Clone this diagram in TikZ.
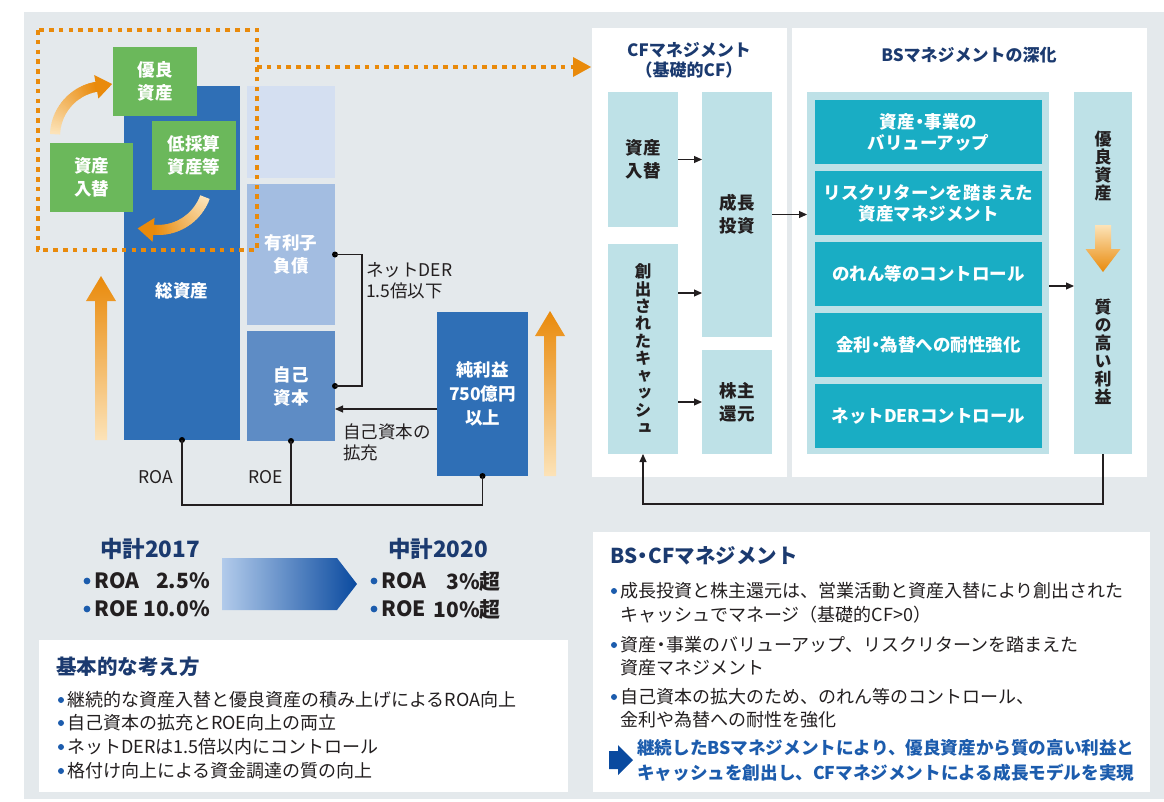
\documentclass[tikz,border=0pt]{standalone}
\usepackage{fontspec}
\setmainfont{Noto Sans CJK JP}
\newfontfamily\vjp[RawFeature=+vert]{Noto Sans CJK JP}
\usetikzlibrary{arrows.meta,calc}
\newcommand{\md}{\kern-.22em・\kern-.22em}
\definecolor{bgray}{HTML}{E4E9EC}
\definecolor{tablue}{HTML}{2F6FB6}
\definecolor{lbone}{HTML}{D4DFF1}
\definecolor{lbtwo}{HTML}{A3BDE1}
\definecolor{mblue}{HTML}{5E8CC5}
\definecolor{gr}{HTML}{6BB85B}
\definecolor{org}{HTML}{E98A0B}
\definecolor{pale}{HTML}{FCE3B8}
\definecolor{cfb}{HTML}{BEE1E7}
\definecolor{teal}{HTML}{19ADC4}
\definecolor{navy}{HTML}{1B3A6F}
\definecolor{tblue}{HTML}{1C5CAD}
\definecolor{ink}{HTML}{231F20}
\definecolor{chl}{HTML}{B2CBEB}
\definecolor{chd}{HTML}{0A4A9F}
\begin{document}
\begin{tikzpicture}[x=1pt,y=-1pt,
  rect/.style={inner sep=0pt,outer sep=0pt},
  wt/.style={text=white,font=\fontsize{17.5}{23}\selectfont\bfseries,align=center,inner sep=0pt},
  dt/.style={text=ink,font=\fontsize{17.5}{23}\selectfont\bfseries,align=center,inner sep=0pt},
  conn/.style={draw=ink,line width=1.1pt},
  arr/.style={conn,-{Triangle[length=8pt,width=7pt]}},
  dot/.style={circle,fill=black,inner sep=0pt,minimum size=6pt},
  lbl/.style={text=ink,font=\fontsize{17.5}{21}\selectfont,align=left,inner sep=0pt},
  body/.style={text=ink,font=\fontsize{18}{22}\selectfont,anchor=west,inner sep=0pt},
  bbody/.style={text=tblue,font=\fontsize{17.6}{22}\selectfont\bfseries,anchor=west,inner sep=0pt},
  ttl/.style={text=navy,font=\fontsize{20.5}{24}\selectfont\bfseries,anchor=west,inner sep=0pt},
  ttlc/.style={text=navy,font=\fontsize{17}{20}\selectfont\bfseries,align=center,inner sep=0pt},
  big/.style={text=ink,font=\fontsize{21}{26}\selectfont\bfseries,inner sep=0pt},
  bigt/.style={text=navy,font=\fontsize{22.5}{26}\selectfont\bfseries,inner sep=0pt},
  dotl/.style={draw=org,line width=4.6pt,dash pattern=on 4.6pt off 5.2pt}
]
\useasboundingbox (0,0) rectangle (1164,801);
\fill[white] (0,0) rectangle (1164,801);
\fill[bgray] (24,12) rectangle (1164,799);

% ---------- left balance sheet ----------
\node[rect,fill=tablue,minimum width=116pt,minimum height=354pt] (ta) at (182,263) {};
\node[wt] (talbl) at (182,291) {総資産};
\node[rect,fill=lbone,minimum width=88pt,minimum height=92pt] (topb) at (291,132) {};
\node[rect,wt,fill=lbtwo,minimum width=88pt,minimum height=141pt] (debt) at (291,254.5) {有利子\\負債};
\node[rect,wt,fill=mblue,minimum width=88pt,minimum height=110pt] (eq) at (291,386) {自己\\資本};
\node[rect,wt,fill=tablue,minimum width=91pt,minimum height=164pt,font=\fontsize{17.5}{24}\selectfont\bfseries] (profit) at (482.5,394) {純利益\\750億円\\以上};

\node[rect,wt,fill=gr,minimum width=84pt,minimum height=69pt] (g1) at (155,81.5) {優良\\資産};
\node[rect,wt,fill=gr,minimum width=83pt,minimum height=69pt] (g2) at (91.5,177.5) {資産\\入替};
\node[rect,wt,fill=gr,minimum width=84pt,minimum height=69pt] (g3) at (194,155.5) {低採算\\資産等};

% curved gradient arrows
\foreach \i in {0,...,39}{
  \pgfmathsetmacro\ta{178-\i*78/40}
  \pgfmathsetmacro\tb{178-(\i+1.4)*78/40}
  \pgfmathtruncatemacro\mx{100*\i/39}
  \draw[line width=10pt,color=org!\mx!pale] ({105+50*cos(\ta)},{136-50*sin(\ta)}) -- ({105+50*cos(\tb)},{136-50*sin(\tb)});
}
\fill[org] (94.2,75.0) -- (112.1,84.0) -- (98.4,98.6) -- cycle;
\foreach \i in {0,...,39}{
  \pgfmathsetmacro\ta{-20-\i*75/40}
  \pgfmathsetmacro\tb{-20-(\i+1.4)*75/40}
  \pgfmathtruncatemacro\mx{100*\i/39}
  \draw[line width=10pt,color=org!\mx!pale] ({158+50*cos(\ta)},{180-50*sin(\ta)}) -- ({158+50*cos(\tb)},{180-50*sin(\tb)});
}
\fill[org] (152.6,241.8) -- (137.7,228.4) -- (154.6,217.9) -- cycle;

% big orange up arrows
\shade[bottom color=pale,top color=org] (95,440) -- (107,440) -- (107,301) -- (116,301) -- (101,276) -- (86,301) -- (95,301) -- cycle;
\shade[bottom color=pale,top color=org] (544,476) -- (556,476) -- (556,336) -- (565,336) -- (550,311) -- (535,336) -- (544,336) -- cycle;

% connectors
\node[dot] (d1) at (debt.east) {};
\node[dot] (d2) at (eq.east) {};
\draw[conn] (d1.center) -- ++(27,0) |- (d2.center);
\node[lbl,anchor=west] (der) at (366,281) {ネットDER\\1.5倍以下};
\coordinate (pa) at ($(profit.west)+(0,15)$);
\draw[arr] (pa) -- (eq.east |- pa);
\node[lbl,anchor=west] (kj) at (343,442) {自己資本の\\拡充};
\node[dot] (d3) at (ta.south) {};
\node[dot] (d4) at (eq.south) {};
\node[dot] (d5) at (profit.south) {};
\coordinate (base) at (0,505);
\draw[conn] (d3.center) -- (d3 |- base) -- (d5 |- base) -- (d5.center);
\draw[conn] (d4.center) -- (d4 |- base);
\node[lbl] (roa) at (156,477) {ROA};
\node[lbl] (roe) at (266,477) {ROE};

% ---------- right panels ----------
\node[rect,fill=white,minimum width=195pt,minimum height=449pt] (cfp) at (689.5,252.5) {};
\node[rect,fill=white,minimum width=355pt,minimum height=449pt] (bsp) at (969.5,252.5) {};

% orange dotted frame and arrow
\draw[dotl] (38,30) rectangle (257,250);
\coordinate (dstart) at (257,67);
\coordinate (dend) at ($(cfp.west |- dstart)+(-1,0)$);
\draw[dotl] (dstart) -- ($(dend)+(-17,0)$);
\fill[org] ($(dend)+(-18,-10)$) -- (dend) -- ($(dend)+(-18,10)$) -- cycle;

\node[ttlc] (cft) at (689,60) {CFマネジメント\\（基礎的CF）};
\node[ttlc] (bst) at (969,55) {BSマネジメントの深化};

\node[rect,dt,fill=cfb,minimum width=70pt,minimum height=135pt] (cfA) at (643,159.5) {資産\\入替};
\node[rect,dt,fill=cfb,minimum width=70pt,minimum height=210pt,font=\vjp\bfseries\fontsize{16.5}{17.4}\selectfont] (cfB) at (643,349) {創\\出\\さ\\れ\\た\\キ\\ャ\\ッ\\シ\\ュ};
\node[rect,dt,fill=cfb,minimum width=70pt,minimum height=245pt] (cfC) at (737,214.5) {成長\\投資};
\node[rect,dt,fill=cfb,minimum width=70pt,minimum height=104pt] (cfD) at (737,402) {株主\\還元};

\draw[arr] (cfA.east) -- (cfA.east -| cfC.west);
\coordinate (c1) at (cfB.east |- 0,293);
\draw[arr] (c1) -- (c1 -| cfC.west);
\draw[arr] (cfB.east |- cfD.west) -- (cfD.west);

\node[rect,fill=cfb,minimum width=242pt,minimum height=362pt] (bsIn) at (928,273) {};
\draw[arr] (cfC.east) -- (cfC.east -| bsIn.west);

\begin{scope}[every node/.style={rect,wt,fill=teal,minimum width=227pt,minimum height=64pt,font=\fontsize{17.5}{21}\selectfont\bfseries}]
\node (t1) at (928.5,132) {資産\md 事業の\\バリューアップ};
\node (t2) at (928.5,203) {リスクリターンを踏まえた\\資産マネジメント};
\node (t3) at (928.5,274) {のれん等のコントロール};
\node (t4) at (928.5,345) {金利\md 為替への耐性強化};
\node (t5) at (928.5,416) {ネットDERコントロール};
\end{scope}

\node[rect,fill=cfb,minimum width=58pt,minimum height=362pt] (col) at (1103,273) {};
\coordinate (c2) at (bsIn.east |- 0,286);
\draw[arr] (c2) -- (c2 -| col.west);
\node[dt,font=\vjp\bfseries\fontsize{17}{18.3}\selectfont] (ya) at (1103,166) {優\\良\\資\\産};
\node[dt,font=\vjp\bfseries\fontsize{17}{18.1}\selectfont] (qp) at (1103,352) {質\\の\\高\\い\\利\\益};
\shade[top color=pale,bottom color=org] (1095,225) -- (1111,225) -- (1111,249) -- (1120.5,249) -- (1103,272) -- (1085.5,249) -- (1095,249) -- cycle;

\coordinate (fb) at (0,504);
\draw[arr] (col.south) -- (col.south |- fb) -- (cfB.south |- fb) -- (cfB.south);

% ---------- targets ----------
\node[bigt] (k17) at (150,549) {中計2017};
\fill[tblue] (87,581) circle (3.4);
\fill[tblue] (87,609) circle (3.4);
\node[big,anchor=west] (r17a) at (94,581) {ROA};
\node[big,anchor=east] (v17a) at (210,581) {2.5\%};
\node[big,anchor=west] (r17b) at (94,609) {ROE};
\node[big,anchor=east] (v17b) at (210,609) {10.0\%};

\shade[left color=chl,right color=chd] (222,558) -- (337,558) -- (357,584) -- (337,610) -- (222,610) -- cycle;

\node[bigt] (k20) at (438,549) {中計2020};
\fill[tblue] (374,581) circle (3.4);
\fill[tblue] (374,609) circle (3.4);
\node[big,anchor=west] (r20a) at (381,581) {ROA};
\node[big,anchor=east] (v20a) at (501,581) {3\%超};
\node[big,anchor=west] (r20b) at (381,609) {ROE};
\node[big,anchor=east] (v20b) at (501,609) {10\%超};

% ---------- basic policy box ----------
\node[rect,fill=white,minimum width=529pt,minimum height=152pt] (kbox) at (303.5,716) {};
\node[ttl] (kt) at (56,667) {基本的な考え方};
\foreach \yy/\tx [count=\k] in {700/継続的な資産入替と優良資産の積み上げによるROA向上,723/自己資本の拡充とROE向上の両立,747/ネットDERは1.5倍以内にコントロール,771/格付け向上による資金調達の質の向上}{
  \fill[tblue] (61,\yy) circle (3);
  \node[body] (kb\k) at (67,\yy) {\tx};
}

% ---------- BS CF box ----------
\node[rect,fill=white,minimum width=557pt,minimum height=260pt] (sbox) at (871.5,662) {};
\node[ttl] (st) at (610,556) {BS\md CFマネジメント};
\fill[tblue] (614,591) circle (3);
\fill[tblue] (614,645) circle (3);
\fill[tblue] (614,697) circle (3);
\node[body] (s1) at (620,591) {成長投資と株主還元は、営業活動と資産入替により創出された};
\node[body] (s2) at (620,615) {キャッシュでマネージ（基礎的CF>0）};
\node[body] (s3) at (620,645) {資産\md 事業のバリューアップ、リスクリターンを踏まえた};
\node[body] (s4) at (620,668) {資産マネジメント};
\node[body] (s5) at (620,697) {自己資本の拡大のため、のれん等のコントロール、};
\node[body] (s6) at (620,720) {金利や為替への耐性を強化};
\fill[chd] (609,751) -- (618,751) -- (618,745) -- (633,760) -- (618,775) -- (618,769) -- (609,769) -- cycle;
\node[bbody] (s7) at (637,748) {継続したBSマネジメントにより、優良資産から質の高い利益と};
\node[bbody] (s8) at (637,773) {キャッシュを創出し、CFマネジメントによる成長モデルを実現};
\end{tikzpicture}
\end{document}
